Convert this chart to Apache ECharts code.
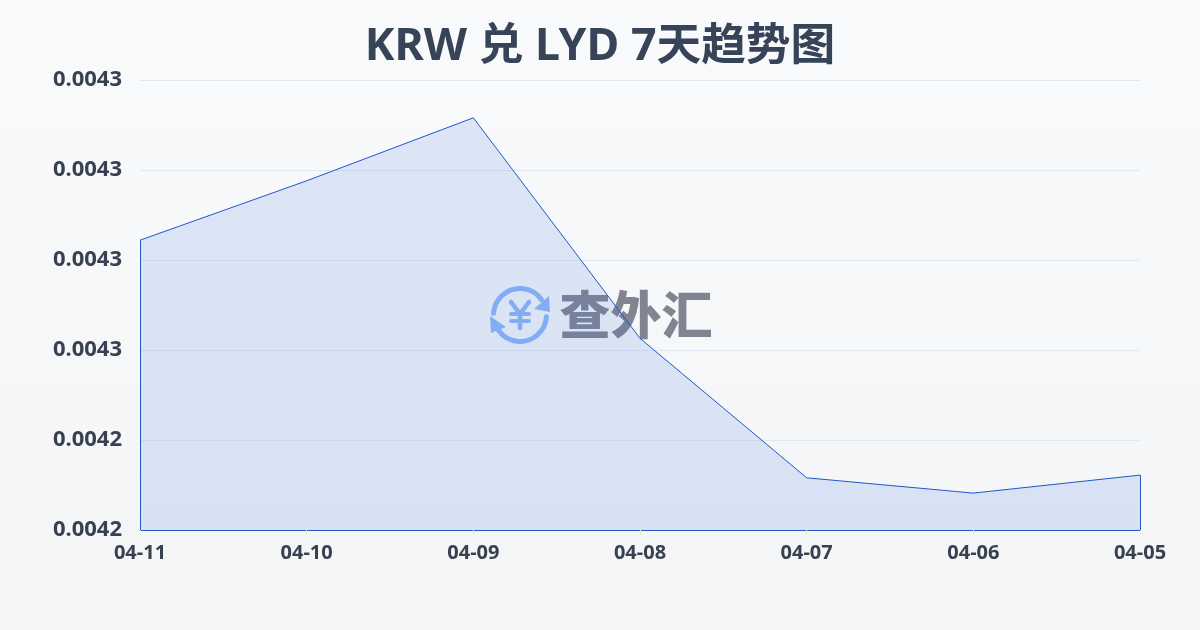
<!DOCTYPE html>
<html>
<head>
<meta charset="utf-8">
<title>KRW 兑 LYD 7天趋势图</title>
<style>
html,body{margin:0;padding:0;}
#main{width:1200px;height:630px;}
</style>
<script src="https://cdn.jsdelivr.net/npm/echarts@6/dist/echarts.min.js"></script>
</head>
<body>
<div id="main"></div>
<script>
var dates = ['04-11','04-10','04-09','04-08','04-07','04-06','04-05']
var rates = [0.0042622,0.0042688,0.0042758,0.0042513,0.0042358,0.0042341,0.0042361]
var yTicks = ['0.0042','0.0042','0.0043','0.0043','0.0043','0.0043']
var yMin = 0.00423
var yMax = 0.00428
var yStep = 0.00001

var font = '"Noto Sans","Noto Sans CJK SC",sans-serif'
var lineColor = '#2257c9'
var iconColor = '#8fb8fa'
var last = dates.length - 1

var chart = echarts.init(document.querySelector('#main'))

var option = {
    backgroundColor: new echarts.graphic.LinearGradient(0,0,0,1,[
        {offset:0,color:'#f8fafc'},
        {offset:1,color:'#f3f5f7'}
    ]),
    animation: false,
    title: {
        text: 'KRW 兑 LYD 7天趋势图',
        left: 'center',
        top: 20,
        textStyle: {
            fontFamily: font,
            fontSize: 44.7,
            fontWeight: 'bold',
            color: '#374357'
        }
    },
    grid: {left:140,right:60,top:80,bottom:100},
    xAxis: {
        type: 'category',
        data: dates,
        boundaryGap: false,
        axisLine: {lineStyle:{color:lineColor,width:1}},
        axisTick: {length:5,lineStyle:{color:'#e8e8e0'}},
        axisLabel: {
            fontFamily: font,
            fontSize: 20,
            fontWeight: 'bold',
            color: '#374151',
            margin: 13,
            showMinLabel: true,
            showMaxLabel: true,
            interval: 0
        }
    },
    yAxis: {
        type: 'value',
        min: yMin,
        max: yMax,
        interval: yStep,
        axisLine: {show:false},
        axisTick: {show:false},
        splitLine: {lineStyle:{color:'#e2e8f0',width:1}},
        axisLabel: {
            fontFamily: font,
            fontSize: 22,
            fontWeight: 'bold',
            color: '#374151',
            margin: 18,
            padding: [0,0,3,0],
            formatter: function(v,i){ return yTicks[i] }
        }
    },
    graphic: [
        {
            type: 'group',
            z: 0,
            zlevel: 0,
            silent: true,
            children: [
                {type:'arc',shape:{cx:520,cy:315,r:26.5,startAngle:-Math.PI*0.98,endAngle:-Math.PI*0.2},
                    style:{stroke:iconColor,lineWidth:5,fill:null,lineCap:'round'}},
                {type:'arc',shape:{cx:520,cy:315,r:26.5,startAngle:Math.PI*0.02,endAngle:Math.PI*0.8},
                    style:{stroke:iconColor,lineWidth:5,fill:null,lineCap:'round'}},
                {type:'polygon',shape:{points:[[550,312],[549,296],[534,309]]},style:{fill:iconColor}},
                {type:'polygon',shape:{points:[[490,316],[491,333],[506,327]]},style:{fill:iconColor}},
                {type:'polyline',shape:{points:[[511,302],[520,314],[529,302]]},
                    style:{stroke:iconColor,lineWidth:4.5,fill:null,lineCap:'round',lineJoin:'round'}},
                {type:'line',shape:{x1:520,y1:314,x2:520,y2:328},style:{stroke:iconColor,lineWidth:4.5,lineCap:'round'}},
                {type:'line',shape:{x1:511,y1:314,x2:529,y2:314},style:{stroke:iconColor,lineWidth:4,lineCap:'round'}},
                {type:'line',shape:{x1:511,y1:321,x2:529,y2:321},style:{stroke:iconColor,lineWidth:4,lineCap:'round'}},
                {type:'text',style:{x:636,y:315,text:'查外汇',align:'center',verticalAlign:'middle',
                    font:'900 51px "Noto Sans CJK SC"',fill:'#808591'}}
            ]
        }
    ],
    series: [
        {
            type: 'line',
            data: rates,
            symbol: 'none',
            smooth: false,
            z: 5,
            lineStyle: {color:lineColor,width:1},
            areaStyle: {color:'rgba(59,105,220,0.2)',origin:'start'},
            markLine: {
                silent: true,
                symbol: 'none',
                label: {show:false},
                lineStyle: {color:lineColor,width:1,type:'solid'},
                data: [
                    [{xAxis:dates[0],yAxis:yMin},{xAxis:dates[0],yAxis:rates[0]}],
                    [{xAxis:dates[last],yAxis:yMin},{xAxis:dates[last],yAxis:rates[last]}]
                ]
            }
        }
    ]
}

chart.setOption(option)
</script>
</body>
</html>
